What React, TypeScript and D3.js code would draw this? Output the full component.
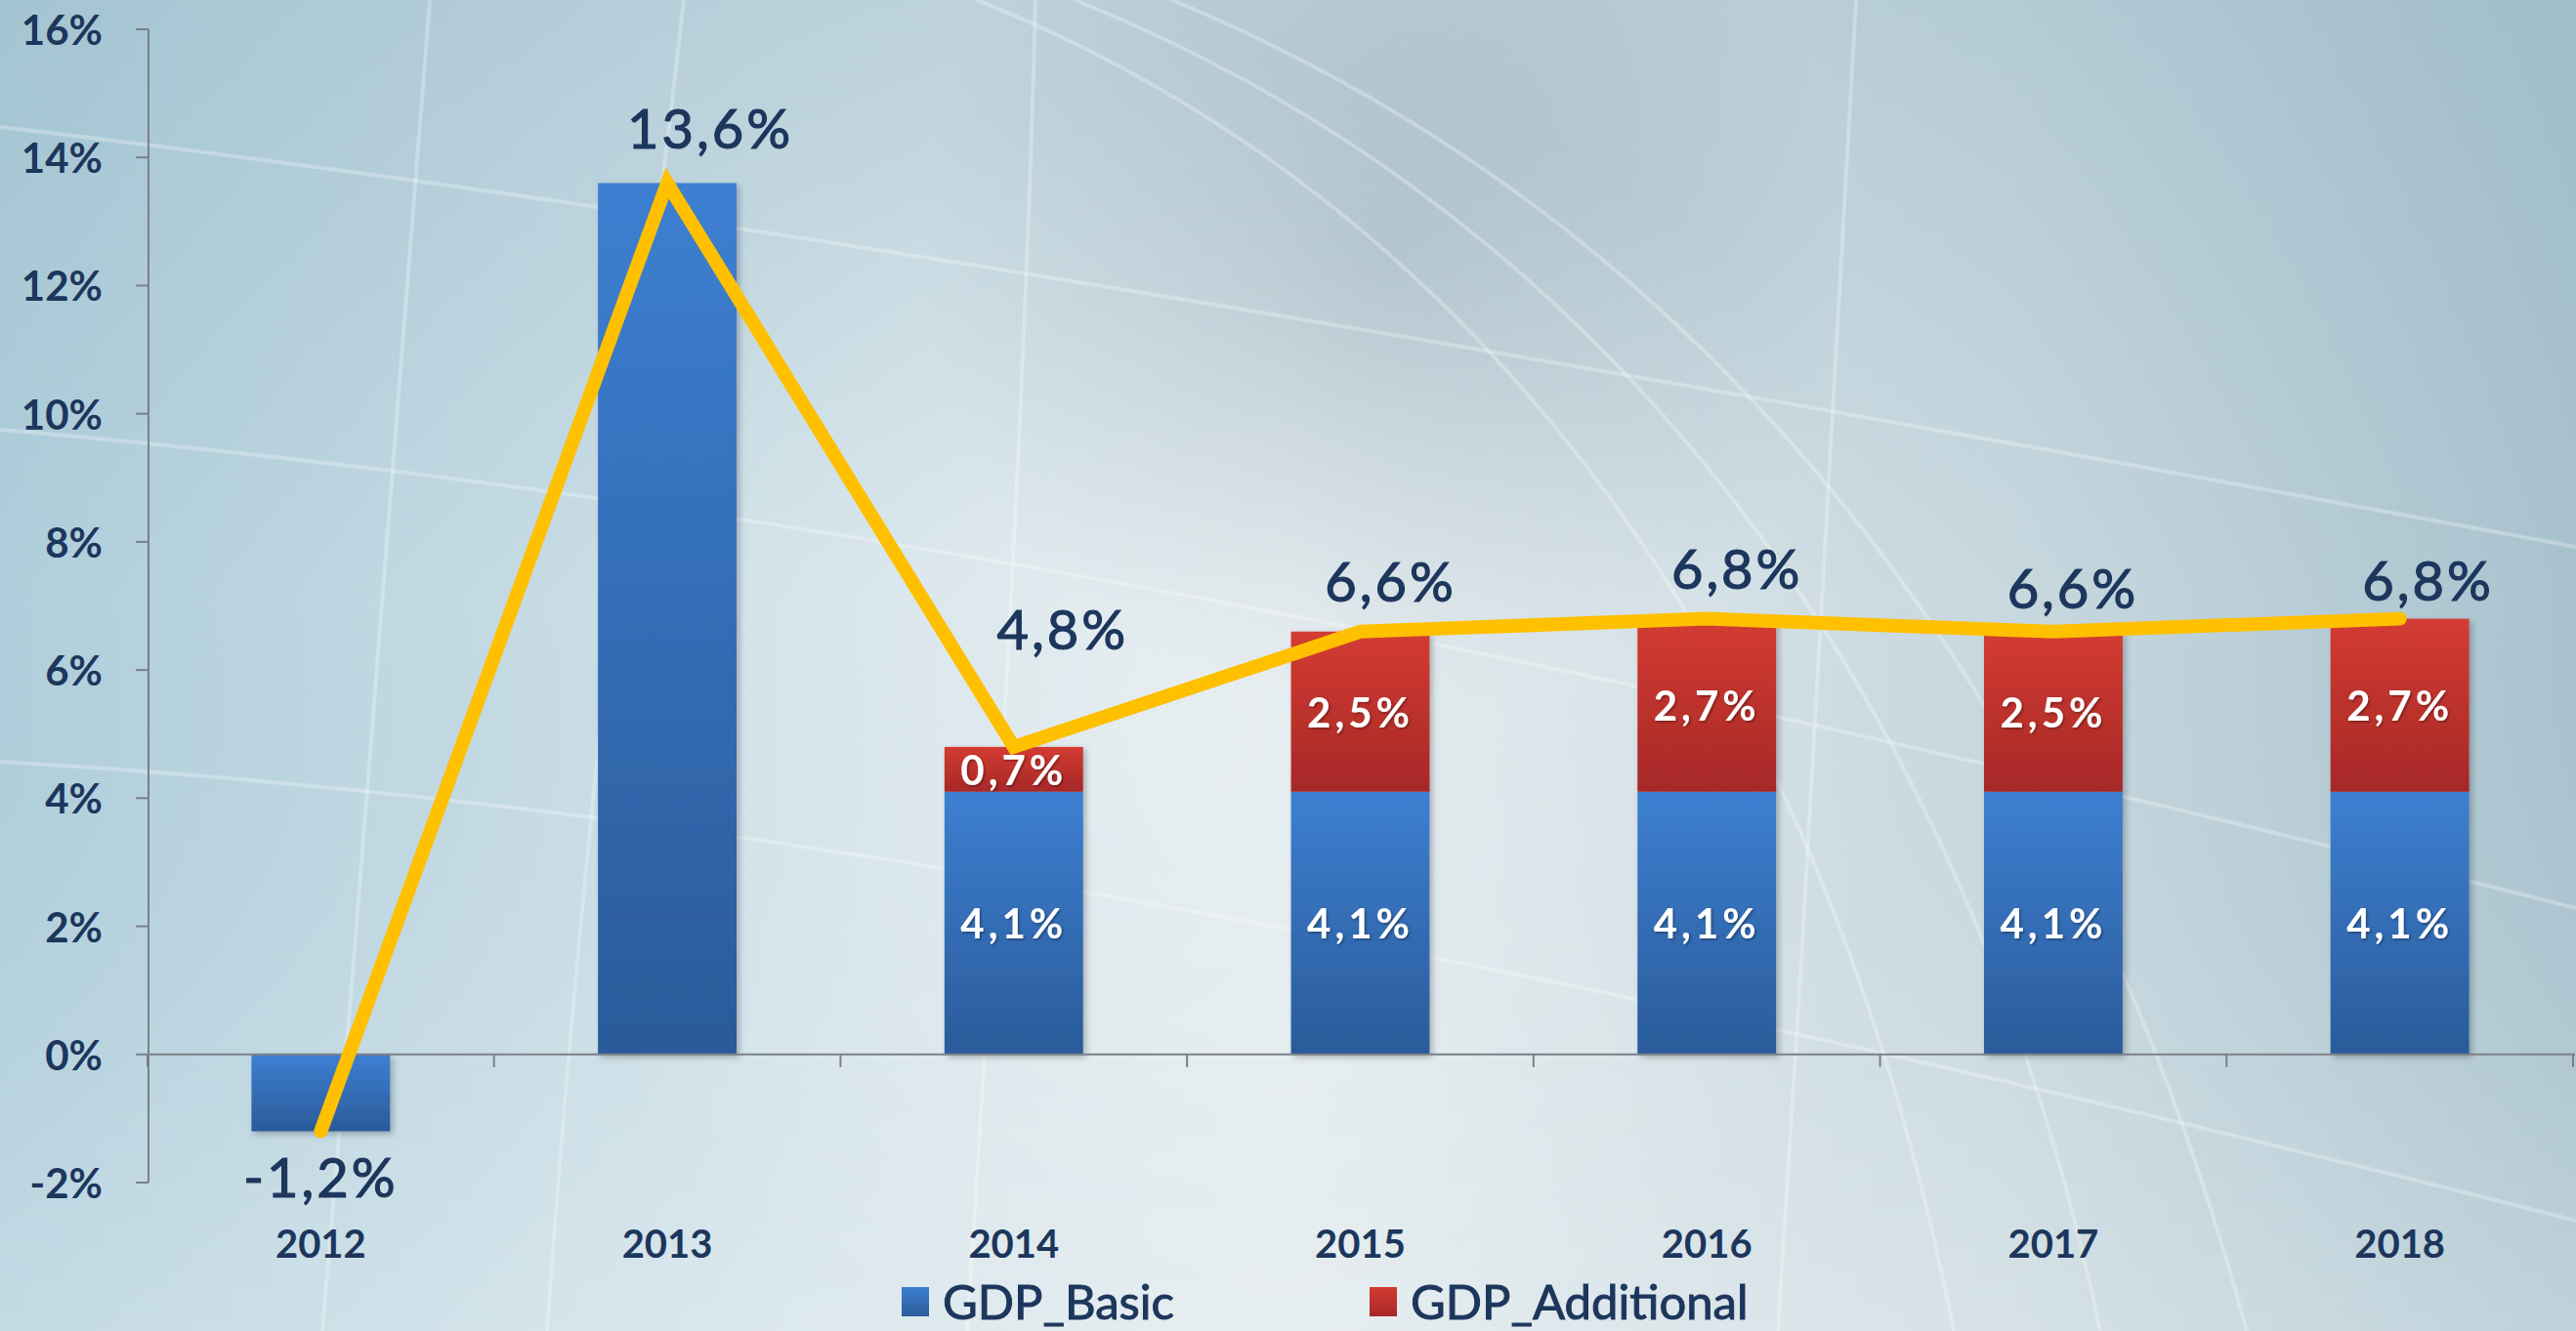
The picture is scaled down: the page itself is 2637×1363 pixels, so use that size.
import React from "react";
import * as d3 from "d3";

const years = ["2012", "2013", "2014", "2015", "2016", "2017", "2018"];
const gdpBasic = [-1.2, 13.6, 4.1, 4.1, 4.1, 4.1, 4.1];
const gdpAdditional = [0, 0, 0.7, 2.5, 2.7, 2.5, 2.7];
const gdpTotal = [-1.2, 13.6, 4.8, 6.6, 6.8, 6.6, 6.8];
const yTicks = [-2, 0, 2, 4, 6, 8, 10, 12, 14, 16];
const seriesNames = ["GDP_Basic", "GDP_Additional"];

// label placement offsets relative to the line point (layout only)
const totalLabelOffset: [number, number][] = [
  [0, 46], [44, -57], [50, -121], [31, -52], [31, -52], [20, -45], [29, -40],
];

const W = 2637;
const H = 1363;
const FONT = "Lato, 'Open Sans', sans-serif";
const NAVY = "#1c365c";

const fmt = (v: number) => v.toFixed(1).replace(".", ",") + "%";

export default function App() {
  const x = d3.scaleBand<string>().domain(years).range([151, 2634]).paddingInner(0.6).paddingOuter(0.3);
  const y = d3.scaleLinear().domain([-2, 16]).range([1211, 30]);
  const bw = x.bandwidth();
  const cx = (d: string) => (x(d) as number) + bw / 2;
  const half = (x.step() - bw) / 2;
  const boundaries = years.map((d) => (x(d) as number) - half).concat([(x(years[years.length - 1]) as number) + bw + half]);

  const line = d3
    .line<number>()
    .x((_, i) => cx(years[i]))
    .y((v) => y(v));

  const bgLines = [
    "M 440 0 C 410 400, 370 900, 330 1363",
    "M 700 0 C 660 350, 600 800, 560 1363",
    "M 1060 0 C 1050 400, 1020 900, 990 1363",
    "M 1900 0 C 1880 400, 1850 900, 1820 1363",
    "M 0 130 C 600 200, 1400 330, 2637 560",
    "M 0 440 C 700 500, 1500 640, 2637 930",
    "M 0 780 C 700 820, 1500 960, 2637 1250",
    "M 1100 0 C 1600 200, 2000 650, 2150 1363",
    "M 1200 0 C 1750 230, 2120 700, 2300 1363",
    "M 1000 0 C 1450 180, 1850 600, 2000 1363",
  ];

  return (
    <svg width={W} height={H} style={{ position: "absolute", left: 0, top: 0, display: "block" }}>
      <defs>
        <linearGradient id="bgx" x1="0" x2="1" y1="0" y2="0">
          <stop offset="0" stopColor="#afcedb" />
          <stop offset="0.3" stopColor="#d0e1e8" />
          <stop offset="0.5" stopColor="#dde7eb" />
          <stop offset="0.78" stopColor="#c8d8df" />
          <stop offset="1" stopColor="#a9c3ce" />
        </linearGradient>
        <linearGradient id="bgy" x1="0" x2="0" y1="0" y2="1">
          <stop offset="0" stopColor="#8fb2c2" stopOpacity="0.35" />
          <stop offset="0.45" stopColor="#8fb2c2" stopOpacity="0" />
          <stop offset="0.8" stopColor="#ffffff" stopOpacity="0.1" />
          <stop offset="1" stopColor="#ffffff" stopOpacity="0.25" />
        </linearGradient>
        <radialGradient id="swirl" cx="1420" cy="260" r="480" gradientUnits="userSpaceOnUse">
          <stop offset="0" stopColor="#7f98a8" stopOpacity="0.4" />
          <stop offset="1" stopColor="#7f98a8" stopOpacity="0" />
        </radialGradient>
        <radialGradient id="glow" cx="1250" cy="750" r="700" gradientUnits="userSpaceOnUse">
          <stop offset="0" stopColor="#ffffff" stopOpacity="0.35" />
          <stop offset="1" stopColor="#ffffff" stopOpacity="0" />
        </radialGradient>
        <linearGradient id="blueG" x1="0" x2="0" y1="0" y2="1">
          <stop offset="0" stopColor="#3d7fd1" />
          <stop offset="1" stopColor="#2a5b9a" />
        </linearGradient>
        <linearGradient id="redG" x1="0" x2="0" y1="0" y2="1">
          <stop offset="0" stopColor="#d33b31" />
          <stop offset="1" stopColor="#a62828" />
        </linearGradient>
        <filter id="shadow" x="-10%" y="-10%" width="130%" height="130%">
          <feDropShadow dx="3" dy="3" stdDeviation="3" floodColor="#000" floodOpacity="0.25" />
        </filter>
        <filter id="tshadow" x="-10%" y="-10%" width="130%" height="130%">
          <feDropShadow dx="1.5" dy="1.5" stdDeviation="1" floodColor="#000" floodOpacity="0.35" />
        </filter>
      </defs>

      {/* background */}
      <rect x={0} y={0} width={W} height={H} fill="url(#bgx)" />
      <rect x={0} y={0} width={W} height={H} fill="url(#bgy)" />
      <rect x={0} y={0} width={W} height={H} fill="url(#swirl)" />
      <rect x={0} y={0} width={W} height={H} fill="url(#glow)" />
      {bgLines.map((d, i) => (
        <path key={i} d={d} fill="none" stroke="#ffffff" strokeOpacity={0.28} strokeWidth={4} />
      ))}

      {/* y axis */}
      <line x1={152} x2={152} y1={y(16)} y2={y(-2)} stroke="#7b8087" strokeWidth={2} />
      {yTicks.map((t) => (
        <g key={t}>
          <line x1={139} x2={152} y1={y(t)} y2={y(t)} stroke="#7b8087" strokeWidth={2} />
          <text x={105} y={y(t)} textAnchor="end" dominantBaseline="central" fontFamily={FONT} fontWeight={700} fontSize={42} fill={NAVY}>
            {t}%
          </text>
        </g>
      ))}

      {/* bars */}
      {years.map((d, i) => {
        const b = gdpBasic[i];
        const a = gdpAdditional[i];
        const x0 = x(d) as number;
        return (
          <g key={d} filter="url(#shadow)">
            <rect x={x0} y={y(Math.max(0, b))} width={bw} height={Math.abs(y(b) - y(0))} fill="url(#blueG)" />
            {a > 0 && <rect x={x0} y={y(b + a)} width={bw} height={y(b) - y(b + a)} fill="url(#redG)" />}
          </g>
        );
      })}

      {/* x axis */}
      <line x1={152} x2={2636} y1={y(0)} y2={y(0)} stroke="#7b8087" strokeWidth={2} />
      {boundaries.map((bx, i) => (
        <line key={i} x1={bx} x2={bx} y1={y(0)} y2={y(0) + 13} stroke="#7b8087" strokeWidth={2} />
      ))}
      {years.map((d) => (
        <text key={d} x={cx(d)} y={1273} textAnchor="middle" dominantBaseline="central" fontFamily={FONT} fontWeight={700} fontSize={40} fill={NAVY}>
          {d}
        </text>
      ))}

      {/* total line */}
      <path d={line(gdpTotal) as string} fill="none" stroke="#ffc000" strokeWidth={14} strokeLinejoin="miter" strokeLinecap="round" />

      {/* in-bar labels */}
      {years.map((d, i) => {
        const b = gdpBasic[i];
        const a = gdpAdditional[i];
        if (i < 2) return null;
        return (
          <g key={d} filter="url(#tshadow)">
            <text x={cx(d)} y={y(b / 2)} textAnchor="middle" dominantBaseline="central" fontFamily={FONT} fontWeight={700} fontSize={42} letterSpacing={4} fill="#ffffff">
              {fmt(b)}
            </text>
            <text x={cx(d)} y={y(b + a / 2)} textAnchor="middle" dominantBaseline="central" fontFamily={FONT} fontWeight={700} fontSize={42} letterSpacing={4} fill="#ffffff">
              {fmt(a)}
            </text>
          </g>
        );
      })}

      {/* total labels */}
      {years.map((d, i) => (
        <text
          key={d}
          x={cx(d) + totalLabelOffset[i][0]}
          y={y(gdpTotal[i]) + totalLabelOffset[i][1]}
          textAnchor="middle"
          dominantBaseline="central"
          fontFamily={FONT}
          fontSize={56}
          letterSpacing={3}
          fill={NAVY}
          stroke={NAVY}
          strokeWidth={1.2}
        >
          {fmt(gdpTotal[i])}
        </text>
      ))}

      {/* legend */}
      {seriesNames.map((s, i) => {
        const lx = [923, 1402][i];
        return (
          <g key={s}>
            <rect x={lx} y={1318} width={28} height={30} fill={i === 0 ? "url(#blueG)" : "url(#redG)"} />
            <text x={lx + 42} y={1332} dominantBaseline="central" fontFamily={FONT} fontSize={49} fill={NAVY} stroke={NAVY} strokeWidth={1}>
              {s}
            </text>
          </g>
        );
      })}
    </svg>
  );
}
